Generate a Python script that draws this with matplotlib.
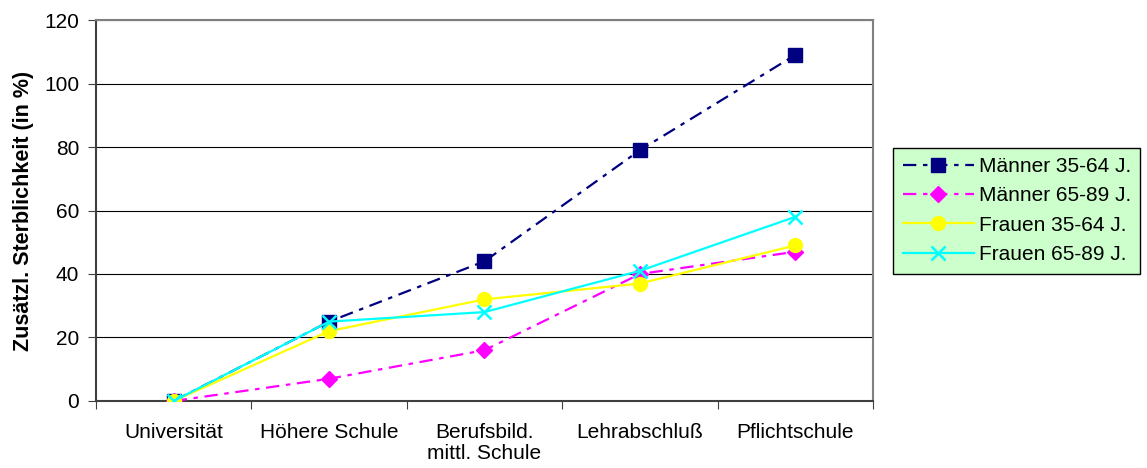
import matplotlib.pyplot as plt
import numpy as np

plt.rcParams['font.family'] = ['Liberation Sans', 'DejaVu Sans']

categories = ["Universität", "Höhere Schule", "Berufsbild.\nmittl. Schule", "Lehrabschluß", "Pflichtschule"]
maenner_35_64 = [0, 25, 44, 79, 109]
maenner_65_89 = [0, 7, 16, 40, 47]
frauen_35_64 = [0, 22, 32, 37, 49]
frauen_65_89 = [0, 25, 28, 41, 58]

fig = plt.figure(figsize=(11.47, 4.68), dpi=100)
ax = fig.add_axes([0.0837, 0.1432, 0.6774, 0.8140])

x = np.arange(len(categories))
ax.plot(x, maenner_35_64, color="#000080", lw=1.6, dashes=(6, 3, 2, 3),
        marker="s", ms=10, label="Männer 35-64 J.", zorder=3)
ax.plot(x, maenner_65_89, color="#FF00FF", lw=1.6, dashes=(6, 3, 2, 3),
        marker="D", ms=8, label="Männer 65-89 J.", zorder=4)
ax.plot(x, frauen_35_64, color="#FFFF00", lw=1.6,
        marker="o", ms=10, label="Frauen 35-64 J.", zorder=5)
ax.plot(x, frauen_65_89, color="#00FFFF", lw=1.6,
        marker="x", ms=10, mew=1.8, label="Frauen 65-89 J.", zorder=6)

ax.set_xlim(-0.5, len(categories) - 0.5)
ax.set_ylim(0, 120)
ax.set_yticks(np.arange(0, 121, 20))
ax.yaxis.grid(True, color="black", lw=0.8)
ax.set_axisbelow(True)

ax.set_xticks(np.arange(-0.5, len(categories), 1))
ax.set_xticklabels([])
ax.set_xticks(x, minor=True)
ax.set_xticklabels(categories, minor=True, fontsize=15, linespacing=1.15)
ax.tick_params(axis="x", which="minor", length=0, pad=16)
ax.tick_params(axis="x", which="major", length=6, color="#404040")
ax.tick_params(axis="y", length=6, labelsize=15, pad=6, color="#404040")

for s in ["left", "bottom"]:
    ax.spines[s].set_color("#404040")
    ax.spines[s].set_linewidth(1.5)
for s in ["top", "right"]:
    ax.spines[s].set_color("#808080")
    ax.spines[s].set_linewidth(1.5)

ax.set_ylabel("Zusätzl. Sterblichkeit (in %)", fontsize=15.5, fontweight="bold", labelpad=7)

leg = ax.legend(loc="center left", bbox_to_anchor=(1.026, 0.5), borderaxespad=0,
                fontsize=15, facecolor="#CCFFCC", edgecolor="black", framealpha=1,
                fancybox=False, handlelength=3.45, borderpad=0.45, labelspacing=0.5,
                handletextpad=0.2)
leg.get_frame().set_linewidth(1.0)

fig.savefig("out.png", dpi=100)
